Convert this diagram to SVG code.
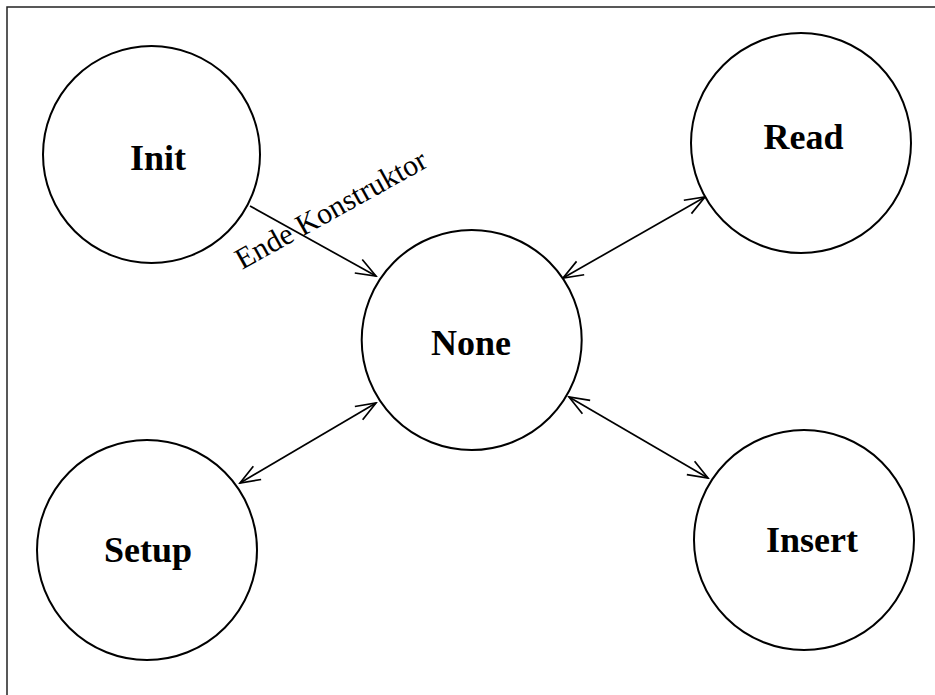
<svg xmlns="http://www.w3.org/2000/svg" width="935" height="695" viewBox="0 0 935 695">
  <style>
    .state { fill: #ffffff; stroke: #000000; stroke-width: 2; }
    .name { font-family: "Liberation Serif", "Times New Roman", serif; font-weight: bold; font-size: 36px; fill: #000000; text-anchor: middle; }
    .edge { fill: none; stroke: #000000; stroke-width: 1.7; }
    .lbl { font-family: "Liberation Serif", "Times New Roman", serif; font-size: 30px; fill: #000000; }
  </style>
  <defs>
    <marker id="open" viewBox="-22 -10 24 20" refX="0" refY="0" markerWidth="24" markerHeight="20" markerUnits="userSpaceOnUse" orient="auto-start-reverse">
      <path d="M -20,-7.7 L 0,0 L -20,7.7" fill="none" stroke="#000000" stroke-width="1.7"/>
    </marker>
  </defs>

  <rect width="935" height="695" fill="#ffffff"/>
  <!-- frame -->
  <path d="M 7,700 V 7 H 940" fill="none" stroke="#222222" stroke-width="1.5"/>

  <g id="connectors">
    <line class="edge" x1="250" y1="206" x2="376" y2="276" marker-end="url(#open)"/>
    <line class="edge" x1="563" y1="278" x2="705" y2="197" marker-start="url(#open)" marker-end="url(#open)"/>
    <line class="edge" x1="376" y1="403" x2="240" y2="483" marker-start="url(#open)" marker-end="url(#open)"/>
    <line class="edge" x1="569" y1="397" x2="708" y2="478" marker-start="url(#open)" marker-end="url(#open)"/>
    <text class="lbl" transform="translate(242,270) rotate(-29)">Ende Konstruktor</text>
  </g>

  <g id="init">
    <circle class="state" cx="151.5" cy="154.5" r="108.5"/>
    <text class="name" x="158" y="170">Init</text>
  </g>
  <g id="none">
    <circle class="state" cx="471.7" cy="340" r="110"/>
    <text class="name" x="471" y="355">None</text>
  </g>
  <g id="read">
    <circle class="state" cx="801" cy="143" r="110"/>
    <text class="name" x="803.5" y="149">Read</text>
  </g>
  <g id="setup">
    <circle class="state" cx="147" cy="550" r="110"/>
    <text class="name" x="148" y="562">Setup</text>
  </g>
  <g id="insert">
    <circle class="state" cx="804" cy="540" r="110"/>
    <text class="name" x="812" y="552">Insert</text>
  </g>
</svg>
